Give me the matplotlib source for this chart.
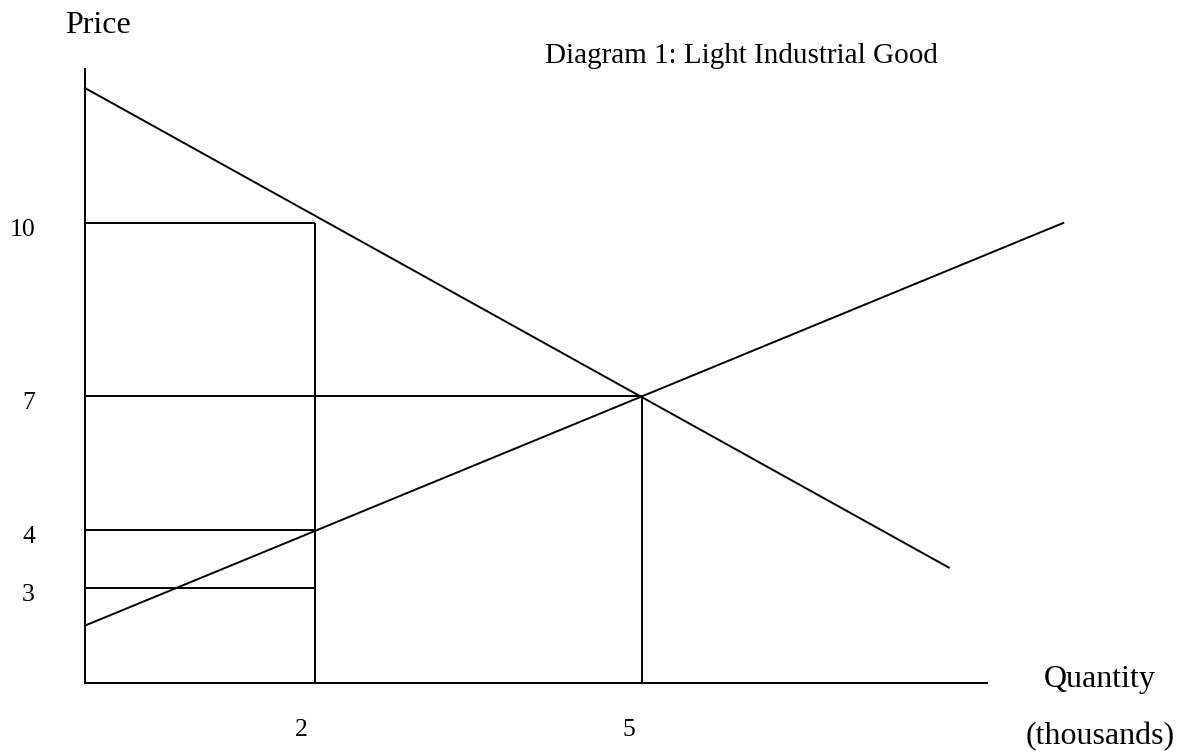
import matplotlib
matplotlib.use("Agg")
import matplotlib.pyplot as plt
import numpy as np

plt.rcParams['font.family'] = ['Liberation Serif', 'DejaVu Serif']

# price levels marked on the diagram and how far (quantity) each line runs
price_levels = [10, 7, 4, 3]
price_level_ends = [2, 5, 2, 2]
# quantity levels and the price each vertical line reaches
quantity_levels = [2, 5]
quantity_level_tops = [10, 7]

# demand and supply curves, (quantity, price) end points
demand_q = [0, 7.82]
demand_p = [12.34, 3.35]
supply_q = [0, 8.87]
supply_p = [2.35, 10.0]

# the axes are hand drawn: ticks are not evenly spaced
# (tick value -> distance along the axis in pixels)
y_knots = [3, 4, 7, 10]
y_drawn = [95, 153, 287, 460]
x_knots = [0, 2, 5]
x_drawn = [0, 230, 557]


def make_map(src, dst):
    src = np.asarray(src, float)
    dst = np.asarray(dst, float)
    lo = (dst[1] - dst[0]) / (src[1] - src[0])
    hi = (dst[-1] - dst[-2]) / (src[-1] - src[-2])

    def f(v):
        v = np.asarray(v, float)
        out = np.interp(v, src, dst)
        out = np.where(v < src[0], dst[0] + (v - src[0]) * lo, out)
        out = np.where(v > src[-1], dst[-1] + (v - src[-1]) * hi, out)
        return out
    return f


W, H = 1191, 755
fig = plt.figure(figsize=(W / 100, H / 100), dpi=100)
ax = fig.add_axes([85 / W, 72 / H, 902 / W, 614 / H])

ax.set_xscale('function', functions=(make_map(x_knots, x_drawn), make_map(x_drawn, x_knots)))
ax.set_yscale('function', functions=(make_map(y_knots, y_drawn), make_map(y_drawn, y_knots)))
ax.set_xlim(0, 8.17)
ax.set_ylim(1.36, 12.67)

lw = 1.4
ax.hlines(price_levels, 0, price_level_ends, colors='black', lw=lw)
ax.vlines(quantity_levels, ax.get_ylim()[0], quantity_level_tops, colors='black', lw=lw)
ax.plot(demand_q, demand_p, color='black', lw=lw, clip_on=False)
ax.plot(supply_q, supply_p, color='black', lw=lw, clip_on=False)

for side in ['top', 'right']:
    ax.spines[side].set_visible(False)
for side in ['left', 'bottom']:
    ax.spines[side].set_linewidth(lw)
ax.set_xticks([])
ax.set_yticks([])
ax.minorticks_off()

for p in price_levels:
    ax.annotate(str(p), xy=(0, p), xycoords=('axes fraction', 'data'),
                xytext=(-36, -5), textcoords='offset points',
                ha='right', va='center', fontsize=18.5)
for q in quantity_levels:
    ax.annotate(str(q), xy=(q, 0), xycoords=('data', 'axes fraction'),
                xytext=(-9.5, -33.8), textcoords='offset points',
                ha='center', va='center', fontsize=18.5)

fig.text(97.5 / W, 1 - 33 / H, "Price", ha='center', va='baseline', fontsize=23)
fig.text(741.5 / W, 1 - 63 / H, "Diagram 1: Light Industrial Good",
         ha='center', va='baseline', fontsize=21)
fig.text(1100 / W, 1 - 687 / H, "Quantity", ha='center', va='baseline', fontsize=23)
fig.text(1100 / W, 1 - 744 / H, "(thousands)", ha='center', va='baseline', fontsize=23)

fig.savefig('out.png', dpi=100)
